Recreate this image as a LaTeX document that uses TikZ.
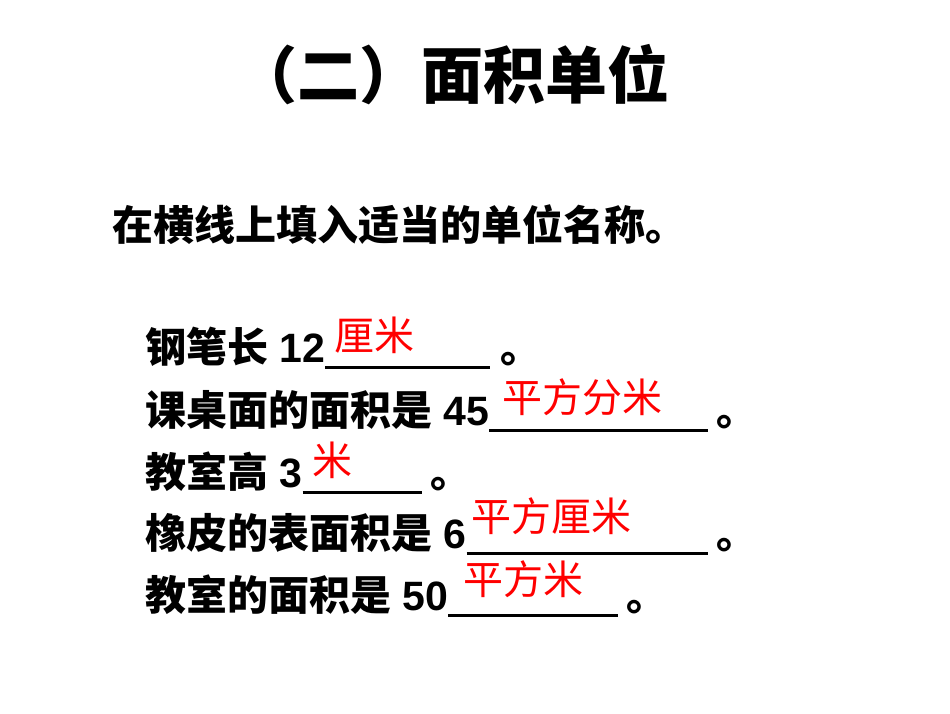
\documentclass[tikz,border=0pt]{standalone}
\usepackage{fontspec}
\setmainfont{Liberation Sans}
\newfontfamily\cjk{Noto Sans CJK SC}
\begin{document}
\begin{tikzpicture}[x=1pt,y=-1pt,
  txt/.style={anchor=base west,inner sep=0pt,font=\fontsize{41}{43}\selectfont},
  ans/.style={anchor=base west,inner sep=0pt,text=red,font=\fontsize{40}{42}\selectfont\cjk},
  uline/.style={line width=3pt}]
\useasboundingbox[fill=white] (0,0) rectangle (950,713);
\node[anchor=center,inner sep=0pt,font=\fontsize{62}{64}\selectfont\cjk\bfseries] (title) at (452,75) {（二）面积单位};
\node[txt] (q) at (112,240) {\cjk\bfseries 在横线上填入适当的单位名称。};
% line 1
\node[txt] (l1) at (145,362) {{\cjk\bfseries 钢笔长} \textbf{12}};
\draw[uline] (l1.base east) ++(0,5) -- (490,367);
\node[txt] (d1) at (500,362) {\cjk\bfseries 。};
\node[ans] (a1) at (334,350) {厘米};
% line 2
\node[txt] (l2) at (145,425) {{\cjk\bfseries 课桌面的面积是} \textbf{45}};
\draw[uline] (l2.base east) ++(0,5) -- (708,430);
\node[txt] (d2) at (716,425) {\cjk\bfseries 。};
\node[ans] (a2) at (502,412) {平方分米};
% line 3
\node[txt] (l3) at (145,487) {{\cjk\bfseries 教室高} \textbf{3}};
\draw[uline] (l3.base east) ++(0,5) -- (422,492);
\node[txt] (d3) at (430,487) {\cjk\bfseries 。};
\node[ans] (a3) at (312,475) {米};
% line 4
\node[txt] (l4) at (145,548) {{\cjk\bfseries 橡皮的表面积是} \textbf{6}};
\draw[uline] (l4.base east) ++(0,5) -- (708,553);
\node[txt] (d4) at (716,548) {\cjk\bfseries 。};
\node[ans] (a4) at (471,531) {平方厘米};
% line 5
\node[txt] (l5) at (145,610) {{\cjk\bfseries 教室的面积是} \textbf{50}};
\draw[uline] (l5.base east) ++(0,5) -- (618,615);
\node[txt] (d5) at (626,610) {\cjk\bfseries 。};
\node[ans] (a5) at (463,594) {平方米};
\end{tikzpicture}
\end{document}
